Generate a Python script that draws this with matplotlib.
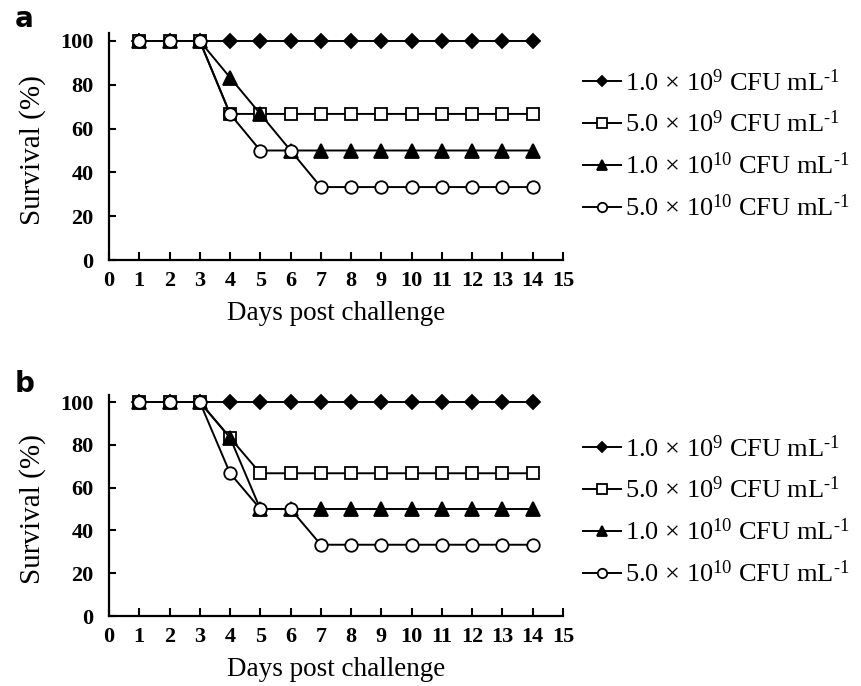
import matplotlib
matplotlib.use("Agg")
import matplotlib.pyplot as plt

plt.rcParams['font.family'] = ['Liberation Serif', 'DejaVu Serif']
plt.rcParams['mathtext.fontset'] = 'custom'
plt.rcParams['mathtext.rm'] = 'Liberation Serif'
plt.rcParams['mathtext.it'] = 'Liberation Serif:italic'
plt.rcParams['mathtext.bf'] = 'Liberation Serif:bold'

days = list(range(1, 15))
labels = ['1.0 × 10$^{9}$ CFU mL$^{\\text{-1}}$',
          '5.0 × 10$^{9}$ CFU mL$^{\\text{-1}}$',
          '1.0 × 10$^{10}$ CFU mL$^{\\text{-1}}$',
          '5.0 × 10$^{10}$ CFU mL$^{\\text{-1}}$']

a_d1 = [100] * 14
a_d2 = [100, 100, 100, 66.7, 66.7, 66.7, 66.7, 66.7, 66.7, 66.7, 66.7, 66.7, 66.7, 66.7]
a_d3 = [100, 100, 100, 83.3, 66.7, 50, 50, 50, 50, 50, 50, 50, 50, 50]
a_d4 = [100, 100, 100, 66.7, 50, 50, 33.3, 33.3, 33.3, 33.3, 33.3, 33.3, 33.3, 33.3]

b_d1 = [100] * 14
b_d2 = [100, 100, 100, 83.3, 66.7, 66.7, 66.7, 66.7, 66.7, 66.7, 66.7, 66.7, 66.7, 66.7]
b_d3 = [100, 100, 100, 83.3, 50, 50, 50, 50, 50, 50, 50, 50, 50, 50]
b_d4 = [100, 100, 100, 66.7, 50, 50, 33.3, 33.3, 33.3, 33.3, 33.3, 33.3, 33.3, 33.3]

xticks = list(range(0, 16))
yticks = [0, 20, 40, 60, 80, 100]

styles = [dict(marker='D', mfc='black', ms=7),
          dict(marker='s', mfc='white', ms=9),
          dict(marker='^', mfc='black', ms=10),
          dict(marker='o', mfc='white', ms=9)]

fig = plt.figure(figsize=(8.61, 6.86), dpi=100)
W, H = 861, 686

def make_ax(top_px, bot_px, series, letter, letter_y, leg_y):
    ax = fig.add_axes([109 / W, 1 - bot_px / H, (563 - 109) / W, (bot_px - top_px) / H])
    handles = []
    for ys, st, lab in zip(series, styles, labels):
        h, = ax.plot(days, ys, color='black', lw=1.4, mec='black', mew=1.3,
                     clip_on=False, label=lab, **st)
        handles.append(h)
    ax.set_xlim(0, 15)
    ax.set_ylim(0, 100)
    ax.set_xticks(xticks)
    ax.set_yticks(yticks)
    for s in ['top', 'right']:
        ax.spines[s].set_visible(False)
    for s in ['left', 'bottom']:
        ax.spines[s].set_linewidth(1.6)
    ax.spines['left'].set_bounds(0, 103.5)
    ax.tick_params(axis='x', direction='in', length=6, width=1.5, labelsize=16, pad=8)
    ax.tick_params(axis='y', direction='in', length=5, width=1.5, labelsize=16, pad=11)
    for t in ax.get_xticklabels() + ax.get_yticklabels():
        t.set_fontweight('bold')
    ax.set_xlabel('Days post challenge', fontsize=19.5, labelpad=7)
    ax.set_ylabel('Survival (%)', fontsize=21, labelpad=10)
    ax.legend(handles=handles, loc='upper left',
              bbox_to_anchor=(583 / W, 1 - leg_y / H),
              bbox_transform=fig.transFigure, frameon=False,
              fontsize=19, handlelength=1.45, handletextpad=0.15,
              labelspacing=0.58, borderpad=0, borderaxespad=0, markerscale=0.75)
    fig.text(15 / W, 1 - letter_y / H, letter,
             fontsize=20, fontweight='bold', family='DejaVu Sans', va='center')
    return ax

make_ax(41, 260, [a_d1, a_d2, a_d3, a_d4], 'a', 19, 69)
make_ax(402, 616, [b_d1, b_d2, b_d3, b_d4], 'b', 384, 435)

fig.savefig('out.png', dpi=100)
